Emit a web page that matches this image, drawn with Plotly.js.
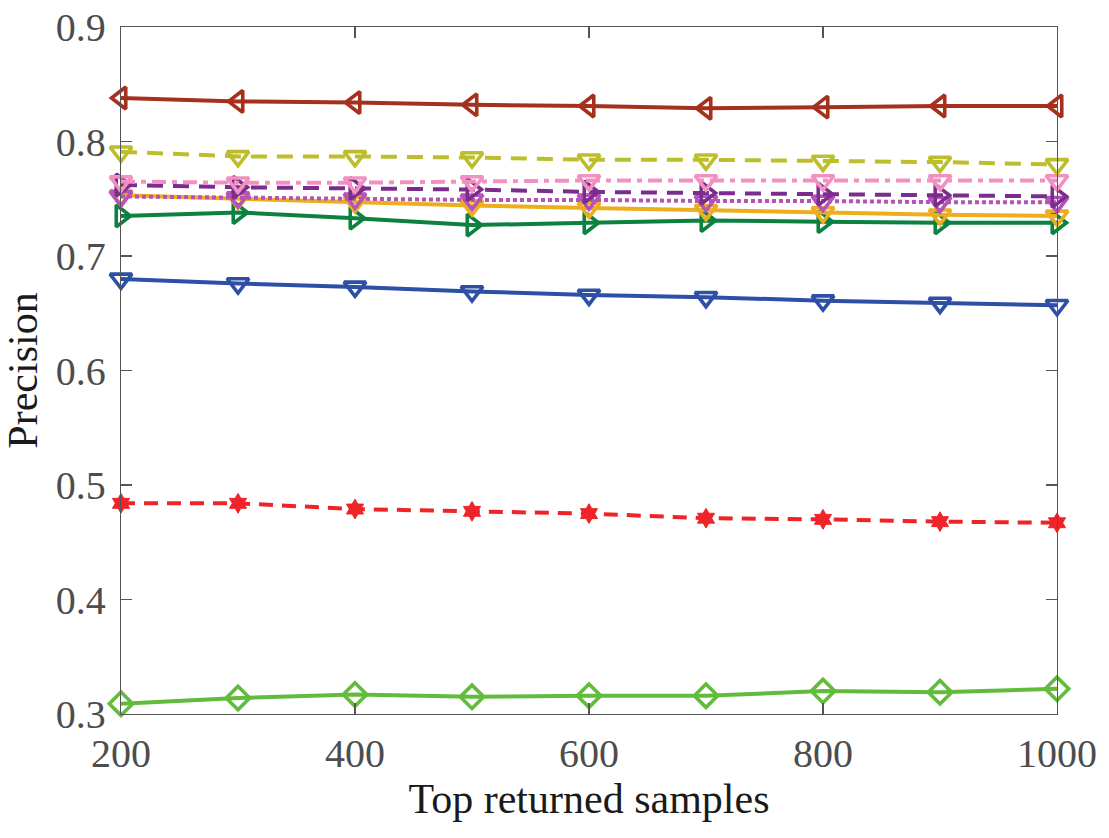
<!DOCTYPE html>
<html>
<head>
<meta charset="utf-8">
<script src="https://cdn.plot.ly/plotly-3.0.1.min.js"></script>
<style>
  html, body { margin: 0; padding: 0; background: #fff; }
  #chart { width: 1109px; height: 838px; }
</style>
</head>
<body>
<div id="chart"></div>
<script>
// Number of top returned samples
const samples = [200, 300, 400, 500, 600, 700, 800, 900, 1000];

// Precision of each method
const brownSeries   = [0.838, 0.835, 0.834, 0.832, 0.831, 0.829, 0.830, 0.831, 0.831];
const oliveSeries   = [0.791, 0.787, 0.787, 0.786, 0.784, 0.784, 0.783, 0.782, 0.780];
const pinkSeries    = [0.765, 0.764, 0.764, 0.765, 0.766, 0.766, 0.766, 0.766, 0.766];
const purpleSeries  = [0.762, 0.760, 0.759, 0.758, 0.756, 0.755, 0.754, 0.753, 0.752];
const orchidSeries  = [0.752, 0.751, 0.750, 0.749, 0.749, 0.748, 0.748, 0.747, 0.747];
const orangeSeries  = [0.753, 0.750, 0.747, 0.744, 0.742, 0.740, 0.738, 0.736, 0.735];
const greenSeries   = [0.735, 0.738, 0.733, 0.727, 0.729, 0.731, 0.730, 0.729, 0.729];
const blueSeries    = [0.680, 0.676, 0.673, 0.669, 0.666, 0.664, 0.661, 0.659, 0.657];
const redSeries     = [0.484, 0.484, 0.479, 0.477, 0.475, 0.471, 0.470, 0.468, 0.467];
const limeSeries    = [0.309, 0.314, 0.317, 0.315, 0.316, 0.316, 0.320, 0.319, 0.322];

const serif = 'Liberation Serif, Times New Roman, serif';

function line(y, color, symbol, dash, msize, mwidth) {
  return {
    x: samples, y: y, type: 'scatter', mode: 'lines+markers',
    cliponaxis: false, showlegend: false,
    line: { color: color, width: 4, dash: dash },
    marker: { symbol: symbol, size: msize || 19, color: color,
              line: { color: color, width: mwidth || 3.6 } }
  };
}

const traces = [
  line(limeSeries,   '#63BB3D', 'diamond-open', 'solid', 18),
  line(redSeries,    '#EE2428', 'hexagram', '14px,9px', 15, 1),
  line(blueSeries,   '#2D4FA6', 'triangle-down-open', 'solid'),
  line(greenSeries,  '#0C8140', 'triangle-right-open', 'solid'),
  line(orangeSeries, '#EDAE1E', 'triangle-down-open', 'solid'),
  line(orchidSeries, '#B553B6', 'triangle-down-open', '4px,3px'),
  line(purpleSeries, '#7A2D8E', 'triangle-right-open', '16px,10px'),
  line(pinkSeries,   '#F291C1', 'triangle-down-open', '14px,6px,5px,6px'),
  line(oliveSeries,  '#BDBE2C', 'triangle-down-open', '16px,10px'),
  line(brownSeries,  '#A5301E', 'triangle-left-open', 'solid')
];

const axisCommon = {
  showline: true, linecolor: '#555', linewidth: 1.3, mirror: 'allticks',
  ticks: 'inside', ticklen: 11, tickwidth: 1.3, tickcolor: '#555',
  showgrid: false, zeroline: false,
  tickfont: { family: serif, size: 40, color: '#4d4d4d' }
};

const layout = {
  width: 1109, height: 838,
  font: { family: serif, size: 40, color: '#4d4d4d' },
  margin: { l: 121, r: 52, t: 27, b: 124 },
  paper_bgcolor: '#fff', plot_bgcolor: '#fff',
  xaxis: Object.assign({}, axisCommon, {
    range: [200, 1000], tickvals: [200, 400, 600, 800, 1000],
    ticklabelstandoff: 4,
    title: { text: 'Top returned samples', standoff: 5,
             font: { family: serif, size: 42, color: '#1a1a1a' } }
  }),
  yaxis: Object.assign({}, axisCommon, {
    range: [0.3, 0.9], tickvals: [0.3, 0.4, 0.5, 0.6, 0.7, 0.8, 0.9],
    tickformat: '.1f', ticklabelstandoff: 6,
    title: { text: 'Precision', standoff: 9,
             font: { family: serif, size: 42, color: '#1a1a1a' } }
  })
};

Plotly.newPlot('chart', traces, layout, { displayModeBar: false, staticPlot: true });
</script>
</body>
</html>
